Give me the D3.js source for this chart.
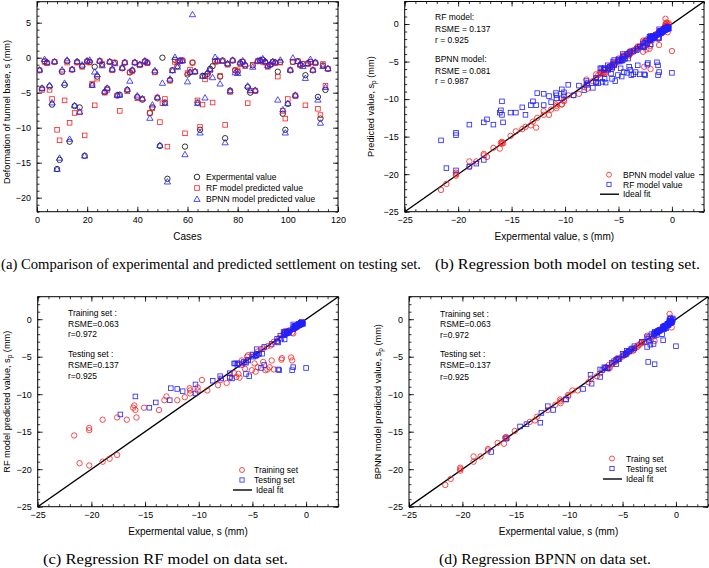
<!DOCTYPE html>
<html>
<head>
<meta charset="utf-8">
<script src="https://cdn.jsdelivr.net/npm/d3@7/dist/d3.min.js"></script>
<style>
  html, body { margin: 0; padding: 0; background: #fff; }
  svg { display: block; }
  text { font-family: "Liberation Sans", Arial, sans-serif; fill: #000; }
  text.cap { font-family: "Liberation Serif", "Times New Roman", serif; }
</style>
</head>
<body>
<svg id="chart" width="709" height="568"></svg>
<script>
// ---------------- DATA ----------------
// Panel (a): testing set, case number vs settlement (mm)
const cases = d3.range(1, 117);
const expValues = [
  -1.8,-4.4,-0.5,-0.7,-4.1,-6.7,-0.6,-15.9,-14.6,-2.0,
  -3.9,-0.5,-12.0,-1.7,-6.9,-0.6,-7.1,-1.2,-14.0,-0.5,
  -0.6,-3.9,-1.3,-2.7,-0.5,-1.0,-4.9,-4.4,-0.6,-1.7,
  -0.7,-5.4,-5.3,-1.5,-0.7,-4.6,-2.1,-1.8,-0.7,-5.6,
  -1.0,-6.0,-0.5,-0.7,-7.9,-7.1,-2.0,-5.8,-12.6,0.0,
  -6.4,-17.3,-3.2,-1.8,-0.3,-1.2,-0.4,-0.4,-12.7,-2.4,
  -2.1,-0.7,-2.0,-6.4,-10.3,-2.6,-2.6,-2.3,-1.6,-1.2,
  -0.5,-0.5,-2.7,-0.4,-11.5,-0.9,-4.7,-0.4,-1.8,-2.0,
  -0.8,-0.6,-1.1,-4.2,-5.0,-1.1,-4.7,-0.5,-0.4,-0.3,
  -0.6,-1.2,-1.0,-0.6,-0.7,-2.0,-0.6,-8.0,-10.3,-6.6,
  -1.8,-0.6,-5.4,-0.5,-1.0,-0.9,-2.5,-0.8,-0.6,-1.8,
  -0.7,-5.6,-8.7,-1.1,-4.6,-1.6
];
const rfValues = [
  -1.8,-4.6,-0.6,-0.8,-4.6,-5.9,-0.6,-10.3,-11.8,-2.0,
  -6.1,-0.7,-9.3,-1.7,-7.9,-0.7,-7.8,-1.3,-11.1,-0.6,
  -0.7,-3.7,-6.8,-3.0,-0.5,-0.9,-5.0,-4.6,-0.6,-1.8,
  -0.7,-5.4,-7.6,-1.5,-0.7,-4.8,-2.1,-1.9,-0.7,-5.8,
  -1.1,-5.9,-0.6,-0.8,-7.9,-7.2,-2.1,-5.7,-9.2,-6.5,
  -5.9,-12.7,-3.3,-1.8,-0.6,-0.7,-0.5,-0.4,-10.8,-2.2,
  -1.7,-0.7,-2.0,-6.1,-9.9,-6.7,-3.1,-2.6,-1.8,-6.4,
  -0.6,-0.5,-2.6,-0.5,-9.6,-1.0,-4.9,-0.4,-1.8,-1.8,
  -0.9,-0.6,-1.2,-6.5,-4.7,-1.0,-4.8,-0.5,-0.5,-0.6,
  -0.7,-1.3,-1.0,-0.6,-0.8,-2.7,-0.7,-7.6,-8.7,-5.9,
  -1.8,-0.6,-5.5,-0.5,-1.1,-0.9,-6.8,-0.9,-0.6,-1.8,
  -0.8,-7.3,-8.2,-0.9,-4.0,-1.6
];
const bpnnValues = [
  -1.7,-4.3,-0.2,-0.6,-3.9,-6.4,-0.5,-15.9,-14.3,-1.7,
  -3.6,-0.3,-11.6,-1.6,-6.8,-0.5,-7.7,-1.0,-14.0,-0.4,
  -0.3,-3.9,-2.0,-2.4,-0.4,-1.1,-4.8,-4.3,-0.5,-1.6,
  -0.8,-5.3,-5.3,-1.4,-0.6,-4.5,-3.3,-1.7,-0.6,-5.4,
  -0.9,-5.8,-0.4,-0.6,-8.6,-6.7,-1.8,-5.6,-12.5,-3.6,
  -6.5,-17.7,-3.0,-1.8,0.1,-1.3,-0.4,-0.4,-13.8,-3.4,
  -2.0,6.2,-1.9,-6.5,-10.7,-2.6,-5.7,-2.0,-1.6,-2.8,
  0.1,-0.3,-3.7,-0.4,-12.1,-0.8,-4.7,-0.3,-2.1,-2.2,
  -0.6,-0.4,-0.9,-4.0,-4.6,-1.3,-4.6,-0.4,-0.3,-0.1,
  -0.5,-1.1,-0.9,-0.5,-0.6,-6.0,-0.3,-7.4,-10.7,-6.5,
  -1.7,0.0,-5.3,-0.5,-0.9,-1.2,-2.9,-0.8,-0.2,-1.7,
  -0.6,-6.0,-9.3,-1.2,-4.2,-1.5
];
// Training set (panels c, d, and b): experimental vs model predictions
const trainExp = [
  -21.6,-21.1,-20.2,-20.2,-20.2,-18.95,-18.95,-18.3,-17.6,-17.6,
  -16.7,-16.1,-16.0,-15.9,-15.8,-15.1,-13.7,-13.2,-13.0,-12.0,
  -11.3,-10.85,-10.8,-10.8,-10.1,-10.1,-9.7,-9.2,-8.2,-7.95,
  -7.4,-7.1,-6.7,-6.5,-6.3,-6.2,-6.3,-5.95,-5.7,-5.6,
  -5.4,-5.05,-4.8,-4.7,-4.5,-4.0,-3.8,-3.6,-3.4,-3.2,
  -3.0,-2.3,-2.25,-1.4,-1.3,-5.5,-5.0,-4.5,-4.0,-3.6,
  -3.3,-3.0,-2.5,-2.0,-1.8,-1.5,-1.3,-1.2,-1.0,-0.8,
  -0.6,-0.5,-0.4,-0.5,-2.0,-1.7,-2.7,-4.2,-6.0
];
const trainRF = [
  -15.5,-19.2,-14.5,-14.8,-19.5,-13.4,-19.0,-18.6,-13.1,-18.1,
  -13.4,-11.8,-11.5,-12.1,-13.1,-11.8,-12.1,-10.8,-10.3,-10.8,
  -10.4,-9.2,-9.5,-9.9,-9.5,-9.1,-8.1,-9.5,-8.8,-8.1,
  -8.5,-7.7,-7.2,-7.7,-7.3,-7.8,-5.9,-6.1,-6.6,-5.7,
  -4.8,-6.8,-5.9,-7.0,-6.4,-5.7,-6.8,-6.7,-6.4,-5.5,
  -6.7,-5.4,-5.2,-5.1,-5.5,-5.0,-4.8,-4.3,-3.9,-3.6,
  -3.5,-3.0,-2.5,-1.8,-1.6,-1.5,-1.8,-1.9,-1.2,-1.0,
  -0.8,-0.7,-0.6,-0.5,-1.6,-1.7,-2.9,-4.0,-5.5
];
const trainBPNN = [
  -22.1,-21.3,-20.0,-19.8,-20.2,-18.3,-19.0,-18.3,-17.5,-17.3,
  -16.5,-16.6,-15.8,-15.7,-15.9,-14.9,-13.7,-13.5,-13.0,-12.1,
  -11.4,-10.7,-11.2,-10.9,-10.1,-10.3,-9.5,-9.5,-8.4,-7.9,
  -7.6,-7.2,-6.6,-6.4,-6.6,-6.5,-6.1,-5.9,-5.7,-5.5,
  -5.3,-5.0,-4.8,-4.6,-4.4,-4.1,-3.8,-3.5,-3.4,-3.1,
  -3.0,-2.6,-2.3,-1.5,-1.3,-5.2,-4.9,-4.3,-4.2,-3.7,
  -3.2,-3.1,-2.3,-2.9,-1.8,-1.4,-1.2,-1.1,-0.9,-0.7,
  0.7,-0.3,-1.1,0.2,-2.0,-1.6,-2.2,-4.1,-6.0
];
const xTicksCases = [0, 20, 40, 60, 80, 100, 120];
const yTicksA = [5, 0, -5, -10, -15, -20];
const ticksReg = [-25, -20, -15, -10, -5, 0];
const idealFit = [-25, 3];

// ---------------- DRAWING ----------------
const RED = "#f52020", BLUE = "#2020ff";
const SANS = "'Liberation Sans', Arial, sans-serif";
const SERIF = "'Liberation Serif', 'Times New Roman', serif";
const svg = d3.select("#chart");

function panel(o) {
  const x = d3.scaleLinear().domain(o.xd).range([o.x0, o.x1]);
  const y = d3.scaleLinear().domain(o.yd).range([o.y0, o.y1]);
  const g = svg.append("g");
  const clipId = "clip" + o.id;
  svg.append("clipPath").attr("id", clipId).append("rect")
    .attr("x", o.x0).attr("y", o.y1).attr("width", o.x1 - o.x0).attr("height", o.y0 - o.y1);
  const minorX = d3.range(Math.ceil(o.xd[0] / o.xm) * o.xm, o.xd[1] + 1e-9, o.xm);
  const minorY = d3.range(Math.ceil(Math.min(...o.yd) / o.ym) * o.ym, Math.max(...o.yd) + 1e-9, o.ym);
  const style = sel => { sel.select(".domain").remove(); sel.selectAll("line").attr("stroke", "#000").attr("stroke-width", 0.8); sel.selectAll("text").style("font-size", "9px").style("font-family", SANS); };
  // bottom
  g.append("g").attr("transform", `translate(0,${o.y0})`)
    .call(d3.axisBottom(x).tickValues(minorX).tickSize(-2.5).tickFormat("")).call(style);
  g.append("g").attr("transform", `translate(0,${o.y0})`)
    .call(d3.axisBottom(x).tickValues(o.xt).tickSizeInner(-5).tickSizeOuter(0).tickPadding(5).tickFormat(d3.format("d"))).call(style);
  // top
  g.append("g").attr("transform", `translate(0,${o.y1})`)
    .call(d3.axisTop(x).tickValues(minorX).tickSize(-2.5).tickFormat("")).call(style);
  g.append("g").attr("transform", `translate(0,${o.y1})`)
    .call(d3.axisTop(x).tickValues(o.xt).tickSize(-5).tickFormat("")).call(style);
  // left
  g.append("g").attr("transform", `translate(${o.x0},0)`)
    .call(d3.axisLeft(y).tickValues(minorY).tickSize(-2.5).tickFormat("")).call(style);
  g.append("g").attr("transform", `translate(${o.x0},0)`)
    .call(d3.axisLeft(y).tickValues(o.yt).tickSizeInner(-5).tickSizeOuter(0).tickPadding(6).tickFormat(d3.format("d"))).call(style);
  // right
  g.append("g").attr("transform", `translate(${o.x1},0)`)
    .call(d3.axisRight(y).tickValues(minorY).tickSize(-2.5).tickFormat("")).call(style);
  g.append("g").attr("transform", `translate(${o.x1},0)`)
    .call(d3.axisRight(y).tickValues(o.yt).tickSize(-5).tickFormat("")).call(style);
  // frame
  g.append("rect").attr("x", o.x0).attr("y", o.y1).attr("width", o.x1 - o.x0).attr("height", o.y0 - o.y1)
    .attr("fill", "none").attr("stroke", "#000").attr("stroke-width", 1);
  // titles
  g.append("text").attr("x", (o.x0 + o.x1) / 2).attr("y", o.y0 + 28).attr("text-anchor", "middle")
    .style("font-size", "10px").style("font-family", SANS).text(o.xlabel);
  const yt = g.append("text").attr("transform", `translate(${o.ylx},${o.ylc || (o.y0 + o.y1) / 2}) rotate(-90)`)
    .attr("text-anchor", "middle").style("font-size", "9.2px").style("font-family", SANS);
  if (o.sub) {
    yt.append("tspan").text(o.ylabel);
    yt.append("tspan").attr("dy", 2.5).style("font-size", "6.5px").text("p");
    yt.append("tspan").attr("dy", -2.5).text(" (mm)");
  } else yt.text(o.ylabel);
  const plot = svg.append("g").attr("clip-path", `url(#${clipId})`);
  return { x, y, g, plot };
}

function circles(p, xs, ys, color) {
  p.plot.append("g").selectAll("circle").data(xs).join("circle")
    .attr("cx", (d) => p.x(d)).attr("cy", (d, i) => p.y(ys[i])).attr("r", 2.7)
    .attr("fill", "none").attr("stroke", color).attr("stroke-width", 0.8);
}
function squares(p, xs, ys, color) {
  const s = 4.6;
  p.plot.append("g").selectAll("rect").data(xs).join("rect")
    .attr("x", (d) => p.x(d) - s / 2).attr("y", (d, i) => p.y(ys[i]) - s / 2)
    .attr("width", s).attr("height", s)
    .attr("fill", "none").attr("stroke", color).attr("stroke-width", 0.8);
}
function triangles(p, xs, ys, color) {
  const sym = d3.symbol().type(d3.symbolTriangle).size(17);
  p.plot.append("g").selectAll("path").data(xs).join("path")
    .attr("transform", (d, i) => `translate(${p.x(d)},${p.y(ys[i]) + 0.6})`)
    .attr("d", sym).attr("fill", "none").attr("stroke", color).attr("stroke-width", 0.8);
}
function ideal(p) {
  p.plot.append("line").attr("x1", p.x(idealFit[0])).attr("y1", p.y(idealFit[0]))
    .attr("x2", p.x(idealFit[1])).attr("y2", p.y(idealFit[1]))
    .attr("stroke", "#000").attr("stroke-width", 1.4);
}
function legend(x, ys, items) {
  const g = svg.append("g");
  items.forEach((it, i) => {
    const cy = ys[i];
    if (it.t === "c") g.append("circle").attr("cx", x).attr("cy", cy).attr("r", it.r || 2.5).attr("fill", "none").attr("stroke", it.c).attr("stroke-width", 0.8);
    if (it.t === "s") { const s = it.s || 4.2; g.append("rect").attr("x", x - s / 2).attr("y", cy - s / 2).attr("width", s).attr("height", s).attr("fill", "none").attr("stroke", it.c).attr("stroke-width", 0.8); }
    if (it.t === "tri") g.append("path").attr("transform", `translate(${x},${cy + 0.6})`).attr("d", d3.symbol().type(d3.symbolTriangle).size(17)).attr("fill", "none").attr("stroke", it.c).attr("stroke-width", 0.8);
    if (it.t === "l") g.append("line").attr("x1", x - 9).attr("x2", x + 10).attr("y1", cy).attr("y2", cy).attr("stroke", "#000").attr("stroke-width", 1.4);
    g.append("text").attr("x", x + it.dx).attr("y", cy + 3.1).style("font-size", "8.5px").style("font-family", SANS).text(it.label);
  });
}
function notes(x, ys, lines) {
  const g = svg.append("g");
  lines.forEach((l, i) => {
    g.append("text").attr("x", x).attr("y", ys[i]).style("font-size", "8.5px").style("font-family", SANS).text(l);
  });
}

// ---- Panel (a)
const pa = panel({ id: "a", x0: 37, x1: 338, y0: 211.7, y1: 1.7, xd: [0, 120], yd: [-22, 8],
  xt: xTicksCases, yt: yTicksA, xm: 4, ym: 1, xlabel: "Cases",
  ylabel: "Deformation of tunnel base, s (mm)", ylx: 9.5, ylc: 112 });
circles(pa, cases, expValues, "#000");
squares(pa, cases, rfValues, RED);
triangles(pa, cases, bpnnValues, BLUE);
legend(197, [177, 188, 199], [
  { t: "c", c: "#000", label: "Expermental value", dx: 9, r: 2.8 },
  { t: "s", c: RED, label: "RF model predicted value", dx: 9, s: 4.6 },
  { t: "tri", c: BLUE, label: "BPNN model predicted value", dx: 9 }
]);

// ---- Panel (b)
const pb = panel({ id: "b", x0: 404.7, x1: 704, y0: 211.7, y1: 1.5, xd: [-25, 3], yd: [-25, 3],
  xt: ticksReg, yt: ticksReg, xm: 1, ym: 1, xlabel: "Expermental value, s (mm)",
  ylabel: "Predicted value, s", sub: true, ylx: 373.5 });
ideal(pb);
circles(pb, trainExp.concat(expValues), trainBPNN.concat(bpnnValues), RED);
squares(pb, trainExp.concat(expValues), trainRF.concat(rfValues), BLUE);
notes(435, [20.3, 31.7, 43, 62.3, 73.7, 84.3],
  ["RF model:", "RSME = 0.137", "r = 0.925", "BPNN model:", "RSME = 0.081", "r = 0.987"]);
legend(609, [174.7, 184.4, 194.2], [
  { t: "c", c: RED, label: "BPNN model value", dx: 14 },
  { t: "s", c: BLUE, label: "RF model value", dx: 14 },
  { t: "l", label: "Ideal fit", dx: 14 }
]);

// ---- Panel (c)
const pc = panel({ id: "c", x0: 37.7, x1: 338.3, y0: 506.7, y1: 296.7, xd: [-25, 3], yd: [-25, 3],
  xt: ticksReg, yt: ticksReg, xm: 1, ym: 1, xlabel: "Expermental value, s (mm)",
  ylabel: "RF model predicted value, s", sub: true, ylx: 9.5 });
ideal(pc);
circles(pc, trainExp, trainRF, RED);
squares(pc, expValues, rfValues, BLUE);
notes(68, [316.3, 327, 337, 357, 368, 379],
  ["Training set :", "RSME=0.063", "r=0.972", "Testing set :", "RSME=0.137", "r=0.925"]);
legend(242, [470, 480, 490], [
  { t: "c", c: RED, label: "Training set", dx: 12 },
  { t: "s", c: BLUE, label: "Testing set", dx: 12 },
  { t: "l", label: "Ideal fit", dx: 14 }
]);

// ---- Panel (d)
const pd = panel({ id: "d", x0: 409, x1: 708, y0: 506.7, y1: 296.7, xd: [-25, 3], yd: [-25, 3],
  xt: ticksReg, yt: ticksReg, xm: 1, ym: 1, xlabel: "Expermental value, s (mm)",
  ylabel: "BPNN model predicted value, s", sub: true, ylx: 380.5 });
ideal(pd);
circles(pd, trainExp, trainBPNN, RED);
squares(pd, expValues, bpnnValues, BLUE);
notes(440, [317, 327.3, 338, 357.3, 368, 379.7],
  ["Training set :", "RSME=0.063", "r=0.972", "Testing set :", "RSME=0.137", "r=0.925"]);
legend(612, [458.5, 468.5, 479], [
  { t: "c", c: RED, label: "Traing set", dx: 14 },
  { t: "s", c: BLUE, label: "Testing set", dx: 14 },
  { t: "l", label: "Ideal fit", dx: 14 }
]);

// ---- Captions (widths fitted to the reference)
const cap = (x, y, t, len) => svg.append("text").attr("class", "cap").attr("x", x).attr("y", y)
  .attr("textLength", len).attr("lengthAdjust", "spacingAndGlyphs")
  .style("font-size", "15px").style("font-family", SERIF).text(t);
cap(1, 268.5, "(a) Comparison of experimental and predicted settlement on testing set.", 420);
cap(435, 268.5, "(b) Regression both model on testing set.", 265);
cap(43, 564, "(c) Regression RF model on data set.", 245);
cap(439, 564, "(d) Regression BPNN on data set.", 212);
</script>
</body>
</html>
